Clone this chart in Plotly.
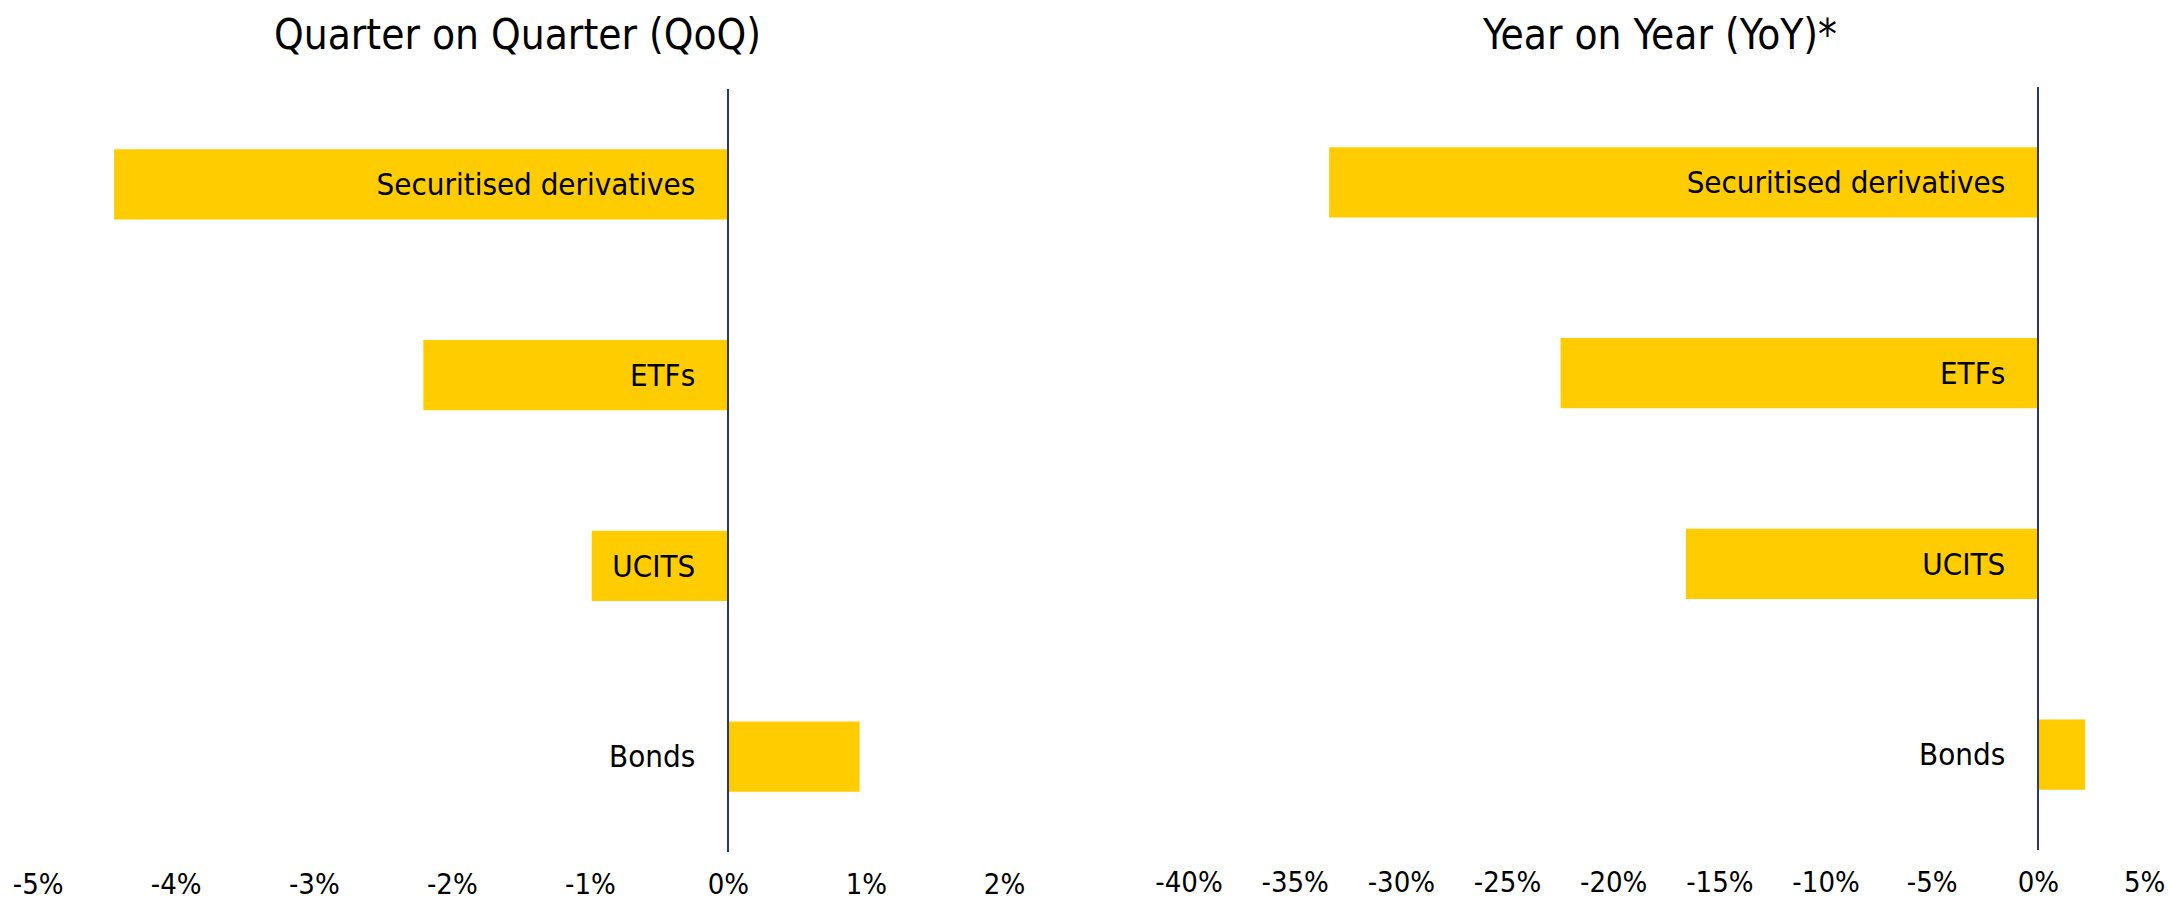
import plotly.graph_objects as go

categories = ["Securitised derivatives", "ETFs", "UCITS", "Bonds"]
qoq_values = [-4.45, -2.21, -0.99, 0.95]
yoy_values = [-33.4, -22.5, -16.6, 2.2]
qoq_ticks = [-5, -4, -3, -2, -1, 0, 1, 2]
yoy_ticks = [-40, -35, -30, -25, -20, -15, -10, -5, 0, 5]
titles = ["Quarter on Quarter (QoQ)", "Year on Year (YoY)*"]

W, H = 2170, 907
FONT = "DejaVu Sans Condensed, Tahoma, Noto Sans, sans-serif"
BAR = "#FFCC00"
AXIS = "#2B3674"

fig = go.Figure()
fig.add_trace(go.Bar(y=categories, x=qoq_values, orientation="h",
                     marker=dict(color=BAR, line=dict(width=0)),
                     xaxis="x", yaxis="y", hoverinfo="x+y"))
fig.add_trace(go.Bar(y=categories, x=yoy_values, orientation="h",
                     marker=dict(color=BAR, line=dict(width=0)),
                     xaxis="x2", yaxis="y2", hoverinfo="x+y"))

xd1 = [38.2 / W, 1004.5 / W]
xd2 = [1189 / W, 2144.6 / W]
yd1 = [1 - 852 / H, 1 - 89 / H]
yd2 = [1 - 850 / H, 1 - 87 / H]

def zero_pos(dom, rng):
    return dom[0] + (0 - rng[0]) / (rng[1] - rng[0]) * (dom[1] - dom[0])

r1 = [-5, 2]
r2 = [-40, 5]

tickfont = dict(family=FONT, size=29, color="#000000")
xcommon = dict(showgrid=False, zeroline=False, showline=False, ticks="",
               tickfont=tickfont, tickmode="array", automargin=False,
               ticklabelstandoff=12, fixedrange=True)
ycommon = dict(showgrid=False, zeroline=False, showline=True, linecolor=AXIS,
               linewidth=2, ticks="", tickfont=dict(family=FONT, size=31, color="#000000"),
               autorange="reversed", anchor="free", ticklabelstandoff=26,
               automargin=False, fixedrange=True)

fig.update_layout(
    width=W, height=H,
    margin=dict(l=0, r=0, t=0, b=0, pad=0),
    paper_bgcolor="white", plot_bgcolor="white",
    showlegend=False, bargap=0.633,
    font=dict(family=FONT, color="#000000"),
    xaxis=dict(domain=xd1, range=r1, tickvals=qoq_ticks,
               ticktext=[f"{v}%" for v in qoq_ticks], anchor="y", **xcommon),
    xaxis2=dict(domain=xd2, range=r2, tickvals=yoy_ticks,
                ticktext=[f"{v}%" for v in yoy_ticks], anchor="y2", **xcommon),
    yaxis=dict(domain=yd1, position=zero_pos(xd1, r1), **ycommon),
    yaxis2=dict(domain=yd2, position=zero_pos(xd2, r2), **ycommon),
)

for t, cx in zip(titles, [517 / W, 1659 / W]):
    fig.add_annotation(text=t, xref="paper", yref="paper", x=cx, y=1 - 34 / H,
                       xanchor="center", yanchor="middle", showarrow=False,
                       font=dict(family=FONT, size=42, color="#000000"))

fig.write_html("out.html", config={"displayModeBar": False},
               post_script="document.body.style.margin='0';document.body.style.overflow='hidden';")
